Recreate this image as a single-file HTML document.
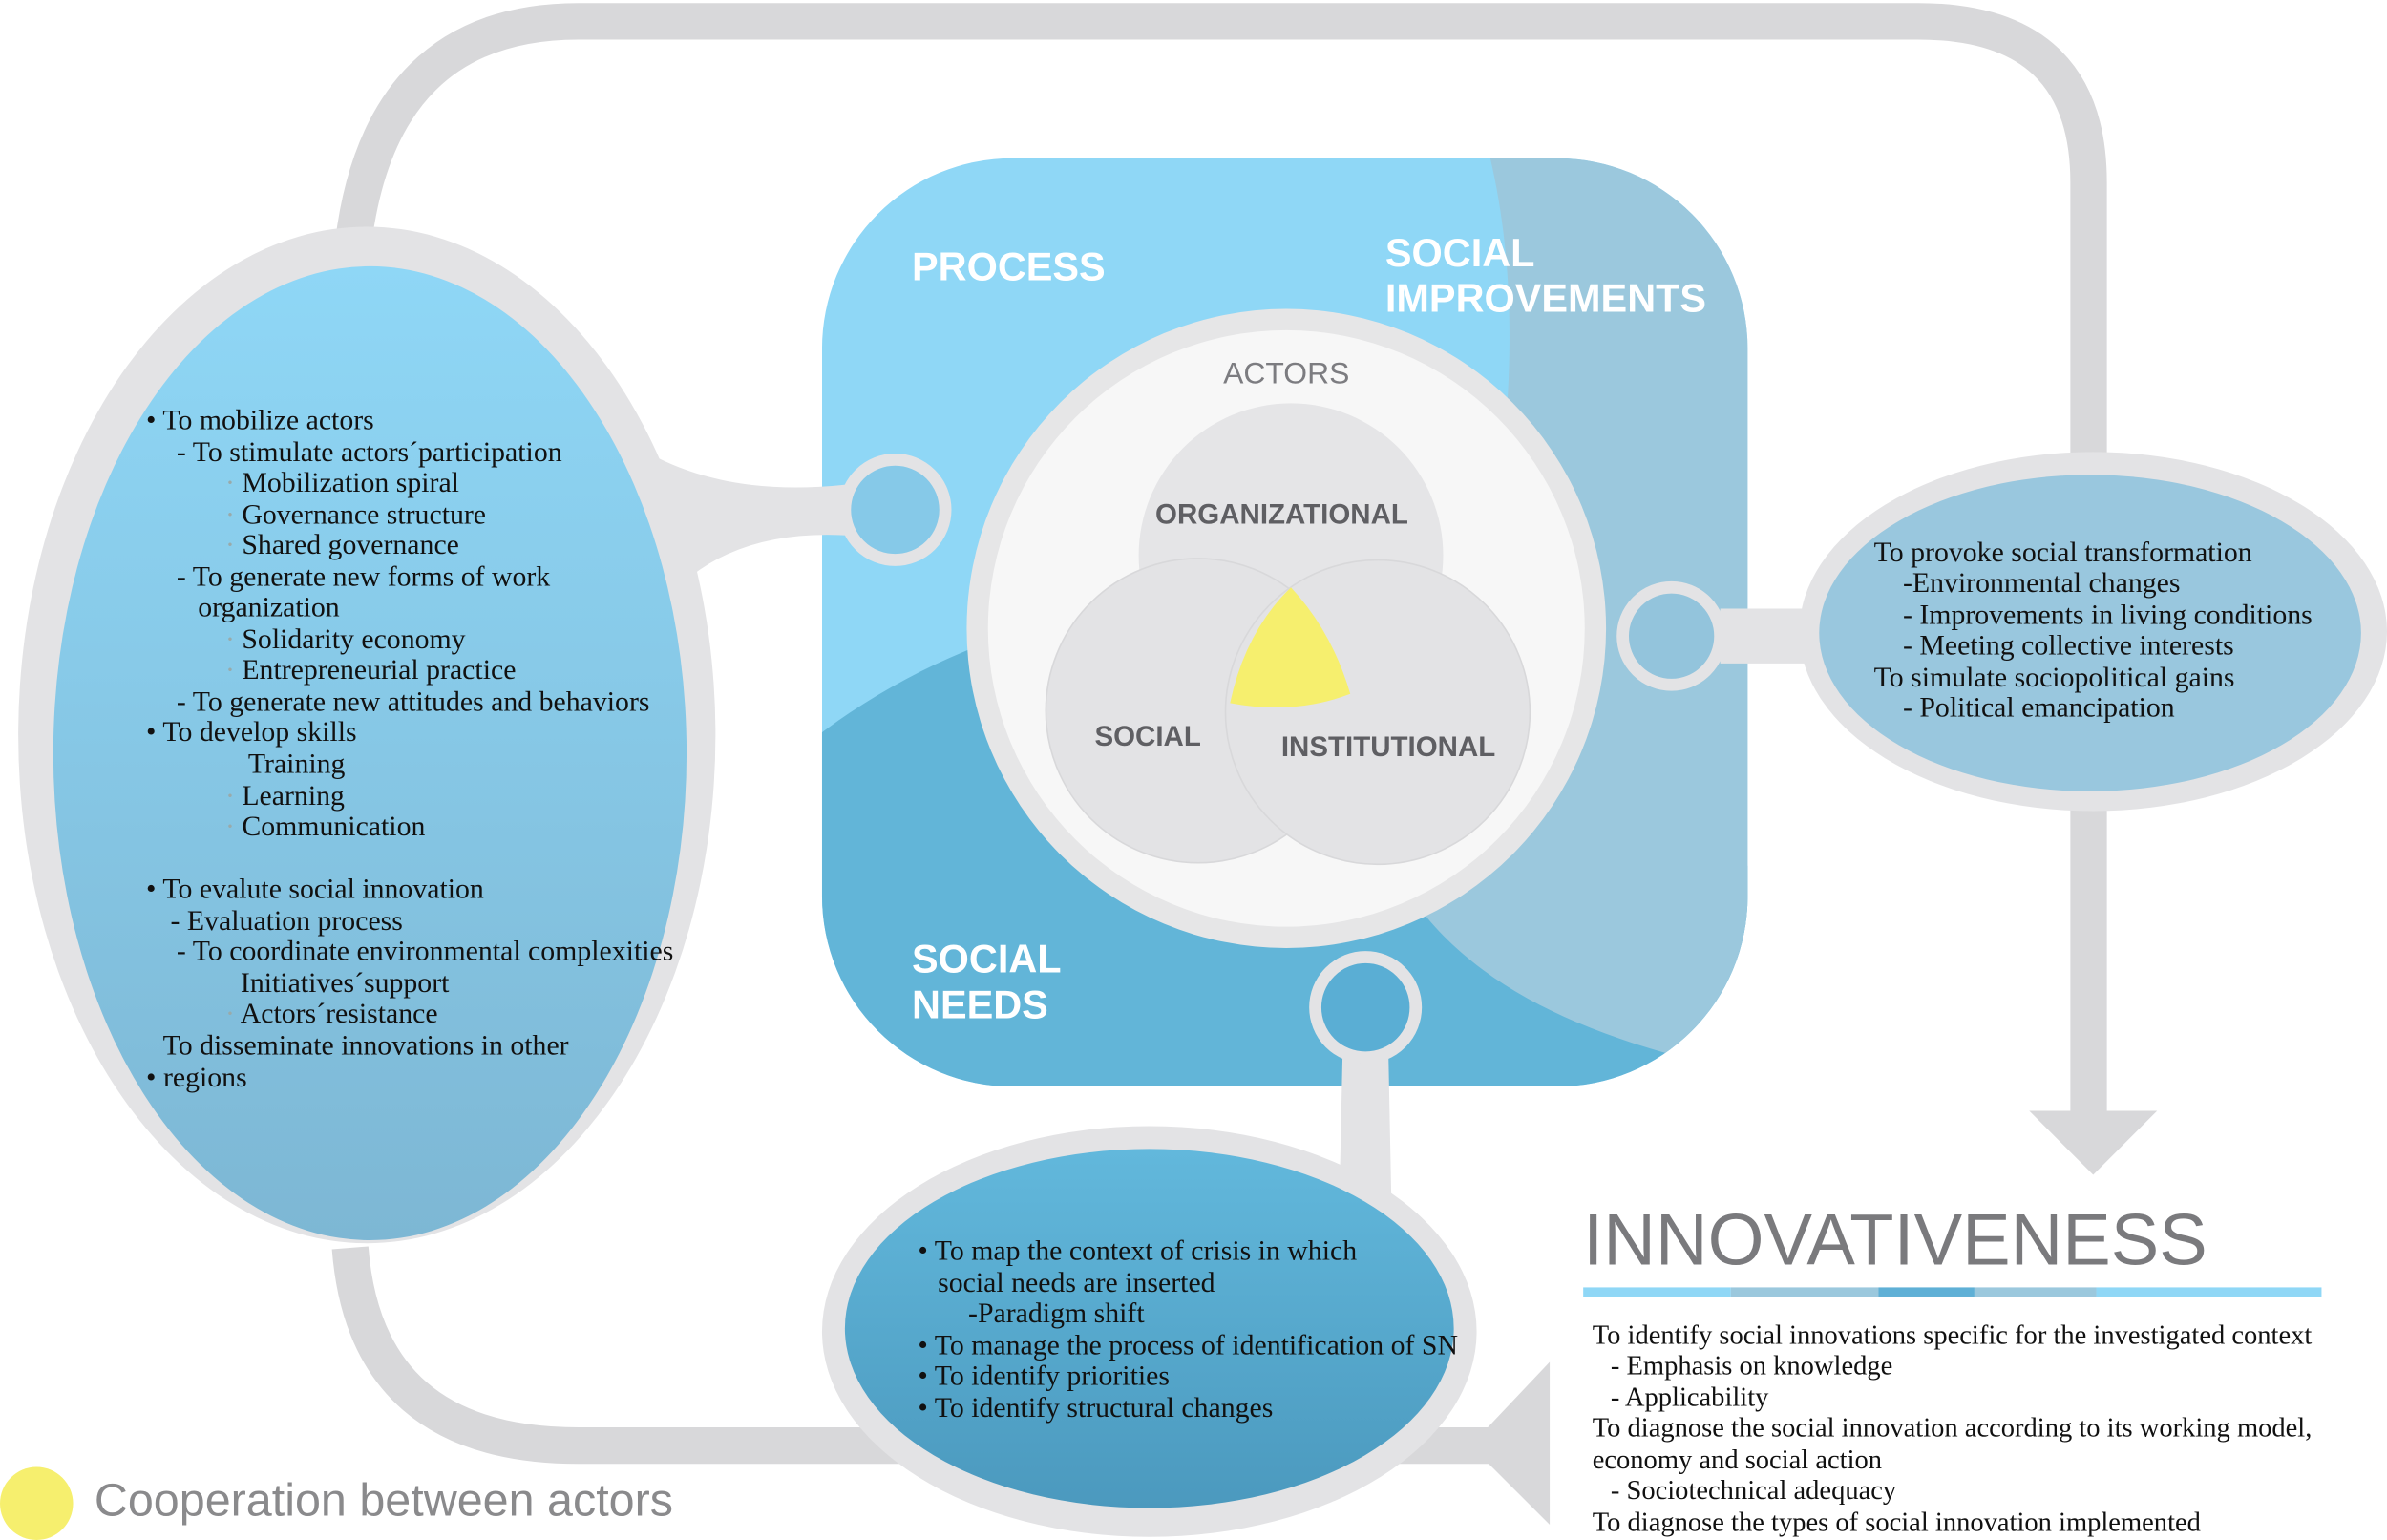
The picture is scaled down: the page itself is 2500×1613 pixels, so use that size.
<!DOCTYPE html>
<html><head><meta charset="utf-8"><style>
html,body{margin:0;padding:0;background:#fff;width:2500px;height:1613px;overflow:hidden;position:relative;}
svg{display:block;position:absolute;left:0;top:0;overflow:hidden;}
.t{font-family:"Liberation Serif",serif;font-size:18.7px;fill:#111;}
.t2{font-family:"Liberation Serif",serif;font-size:17.9px;fill:#111;}
.h{font-family:"Liberation Sans",sans-serif;font-weight:bold;fill:#fff;font-size:26px;}
.v{font-family:"Liberation Sans",sans-serif;font-weight:bold;fill:#5f5f63;font-size:18.5px;}
</style></head><body>
<svg width="2500" height="1613" viewBox="0 0 1568 1012" preserveAspectRatio="none" xmlns="http://www.w3.org/2000/svg">
<defs>
<linearGradient id="gl" x1="0" y1="0" x2="0" y2="1"><stop offset="0" stop-color="#8fd7f6"/><stop offset="1" stop-color="#7db7d4"/></linearGradient>
<linearGradient id="gb" x1="0" y1="0" x2="0" y2="1"><stop offset="0" stop-color="#62b8dc"/><stop offset="1" stop-color="#4b99be"/></linearGradient>
<clipPath id="sq"><rect x="540" y="104" width="608" height="610" rx="125"/></clipPath>
</defs>
<path d="M232 160 Q250 14 380 14 L1260 14 Q1372 14 1372 120 L1372 735" fill="none" stroke="#d8d8da" stroke-width="24"/>
<polygon points="1333,730 1417,730 1375,772" fill="#d8d8da"/>
<path d="M230 820 Q240 950 380 950 L990 950" fill="none" stroke="#d8d8da" stroke-width="24"/>
<polygon points="1018,895 1018,1002 966,950" fill="#d8d8da"/>
<g clip-path="url(#sq)">
<rect x="540" y="104" width="608" height="610" fill="#8fd7f6"/>
<circle cx="800" cy="830" r="435" fill="#62b5d8"/>
<path d="M978,100 C1000,190 995,300 965,420 C945,500 925,570 935,600 C975,650 1040,680 1125,700 L1160,700 L1160,100 Z" fill="#9bc8dd"/>
</g>
<path d="M400 280 Q460 330 560 318 L560 352 Q460 345 420 420 Z" fill="#e3e3e5"/>
<ellipse cx="241" cy="483" rx="229" ry="334" fill="#e3e3e5"/>
<ellipse cx="243" cy="495" rx="208" ry="320" fill="url(#gl)"/>
<circle cx="588" cy="335" r="33" fill="#86c9e8" stroke="#e3e3e5" stroke-width="8"/>
<path d="M1130 400 L1200 400 L1200 436 L1130 436 Z" fill="#e3e3e5"/>
<circle cx="1098" cy="418" r="32" fill="#93c4dc" stroke="#e3e3e5" stroke-width="8"/>
<ellipse cx="1375" cy="415" rx="193" ry="118" fill="#e3e3e5"/>
<ellipse cx="1373" cy="416" rx="178" ry="104" fill="#99c7de"/>
<path d="M882 690 L912 690 L914 790 L880 780 Z" fill="#e3e3e5"/>
<circle cx="897" cy="662" r="33" fill="#5aaed4" stroke="#e3e3e5" stroke-width="8"/>
<ellipse cx="755" cy="875" rx="215" ry="135" fill="#e3e3e5"/>
<ellipse cx="755" cy="873" rx="200" ry="118" fill="url(#gb)"/>
<circle cx="845" cy="413" r="210" fill="#e6e6e7"/>
<circle cx="845" cy="413" r="196" fill="#f7f7f7"/>
<circle cx="848" cy="365" r="100" fill="#e5e5e7"/>
<circle cx="787" cy="467" r="100" fill="#e3e3e5" stroke="#d8d8da" stroke-width="1"/>
<circle cx="905" cy="468" r="100" fill="#e3e3e5" stroke="#d8d8da" stroke-width="1"/>
<path d="M848,386 Q875,415 887,456 Q850,470 808,462 Q818,415 848,386 Z" fill="#f6ef6e"/>
<text x="845" y="252" text-anchor="middle" font-family="Liberation Sans,sans-serif" font-size="20" fill="#7c7c80">ACTORS</text>
<text class="v" x="842" y="344" text-anchor="middle">ORGANIZATIONAL</text>
<text class="v" x="754" y="490" text-anchor="middle">SOCIAL</text>
<text class="v" x="912" y="497" text-anchor="middle">INSTITUTIONAL</text>
<text class="h" x="599" y="184">PROCESS</text>
<text class="h" x="910" y="175">SOCIAL</text>
<text class="h" x="910" y="205">IMPROVEMENTS</text>
<text class="h" x="599" y="639">SOCIAL</text>
<text class="h" x="599" y="669">NEEDS</text>
<g class="t">
<text x="96" y="282">• To mobilize actors</text>
<text x="116" y="303">- To stimulate actors´participation</text>
<text x="148" y="323"><tspan fill="#9aa">·</tspan> Mobilization spiral</text>
<text x="148" y="344"><tspan fill="#9aa">·</tspan> Governance structure</text>
<text x="148" y="364"><tspan fill="#9aa">·</tspan> Shared governance</text>
<text x="116" y="385">- To generate new forms of work</text>
<text x="130" y="405">organization</text>
<text x="148" y="426"><tspan fill="#9aa">·</tspan> Solidarity economy</text>
<text x="148" y="446"><tspan fill="#9aa">·</tspan> Entrepreneurial practice</text>
<text x="116" y="467">- To generate new attitudes and behaviors</text>
<text x="96" y="487">• To develop skills</text>
<text x="163" y="508">Training</text>
<text x="148" y="529"><tspan fill="#9aa">·</tspan> Learning</text>
<text x="148" y="549"><tspan fill="#9aa">·</tspan> Communication</text>
<text x="96" y="590">• To evalute social innovation</text>
<text x="112" y="611">- Evaluation process</text>
<text x="116" y="631">- To coordinate environmental complexities</text>
<text x="158" y="652">Initiatives´support</text>
<text x="148" y="672"><tspan fill="#9aa">·</tspan> Actors´resistance</text>
<text x="107" y="693">To disseminate innovations in other</text>
<text x="96" y="714">• regions</text>
</g>
<g class="t">
<text x="1231" y="369">To provoke social transformation</text>
<text x="1250" y="389">-Environmental changes</text>
<text x="1250" y="410">- Improvements in living conditions</text>
<text x="1250" y="430">- Meeting collective interests</text>
<text x="1231" y="451">To simulate sociopolitical gains</text>
<text x="1250" y="471">- Political emancipation</text>
</g>
<g class="t">
<text x="603" y="828">• To map the context of crisis  in which</text>
<text x="616" y="849">social needs are inserted</text>
<text x="636" y="869">-Paradigm shift</text>
<text x="603" y="890">• To manage the process of identification of SN</text>
<text x="603" y="910">• To identify priorities</text>
<text x="603" y="931">• To identify structural changes</text>
</g>
<text x="1040" y="831" font-family="Liberation Sans,sans-serif" font-size="47.5" fill="#7a7a7d">INNOVATIVENESS</text>
<rect x="1040" y="846" width="97" height="6" fill="#8fd7f6"/>
<rect x="1137" y="846" width="97" height="6" fill="#9bc8dd"/>
<rect x="1234" y="846" width="63" height="6" fill="#5fb0d6"/>
<rect x="1297" y="846" width="80" height="6" fill="#9bc8dd"/>
<rect x="1377" y="846" width="148" height="6" fill="#8fd7f6"/>
<g class="t2">
<text x="1046" y="883">To identify social innovations specific for the investigated context</text>
<text x="1058" y="903">- Emphasis on knowledge</text>
<text x="1058" y="924">- Applicability</text>
<text x="1046" y="944">To diagnose the social innovation according to its working model,</text>
<text x="1046" y="965">economy and social action</text>
<text x="1058" y="985">- Sociotechnical adequacy</text>
<text x="1046" y="1006">To diagnose the types of social innovation implemented</text>
</g>
<circle cx="24" cy="988" r="24" fill="#f6ef6e"/>
<text x="62" y="996" font-family="Liberation Sans,sans-serif" font-size="30.4" fill="#8a8a8c">Cooperation between actors</text>
</svg>
</body></html>
